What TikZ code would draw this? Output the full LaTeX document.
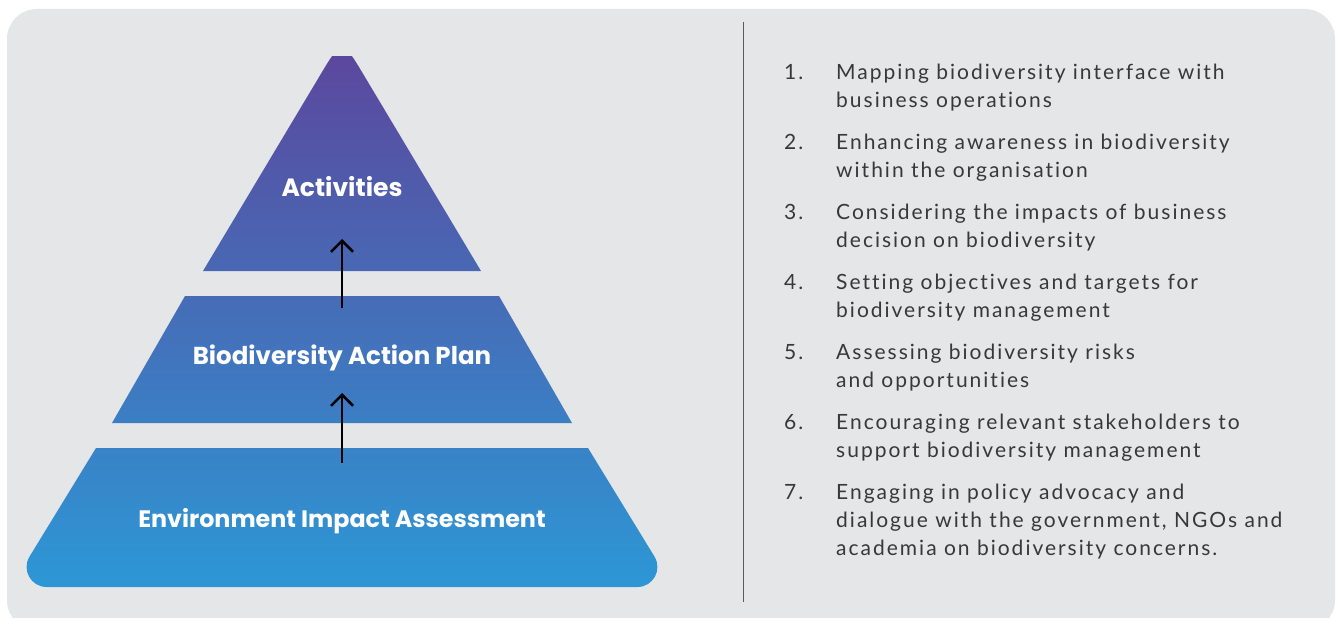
\documentclass[tikz,border=0pt]{standalone}
\usepackage{fontspec}
\setmainfont{Lato}[Ligatures=NoCommon]
\newfontfamily\listfont{Lato}[Ligatures=NoCommon, LetterSpace=9.5]
\newfontfamily\titlefont{Poppins}
\usetikzlibrary{arrows.meta}
\definecolor{bgc}{HTML}{E5E6E8}
\definecolor{ptop}{HTML}{5B489E}
\definecolor{pbot}{HTML}{2D97D5}
\definecolor{txtc}{HTML}{383838}
\definecolor{divc}{HTML}{5A5A5A}
\begin{document}
\begin{tikzpicture}[x=1pt,y=1pt,
  titlelabel/.style={text=white, font=\titlefont\fontsize{25}{28}\selectfont\bfseries, anchor=base, inner sep=0pt},
  numlabel/.style={text=txtc, font=\listfont\fontsize{21}{28}\selectfont, anchor=base west, inner sep=0pt},
  itemlabel/.style={text=txtc, font=\listfont\fontsize{21}{28}\selectfont, anchor=base west, align=left, inner sep=0pt},
  upconn/.style={line width=2.5pt, -{Straight Barb[length=11pt,width=22pt]}}]
\useasboundingbox (0,0) rectangle (1336,-618);
\fill[white] (0,0) rectangle (1336,-618);
\begin{scope}
  \clip (0,0) rectangle (1336,-618);
  \fill[bgc, rounded corners=30pt] (7,-9) rectangle (1335,-630);
\end{scope}
% pyramid with one vertical gradient
\begin{scope}
  \clip (203,-271) -- (320,-75.4) .. controls (342,-38.6) .. (364,-75.4) -- (481,-271) -- cycle
        (185,-296) -- (499,-296) -- (572,-423) -- (112,-423) -- cycle
        (96,-448) -- (588,-448) -- (654.5,-556.6) .. controls (662.6,-569.9) and (653,-587) .. (637.4,-587)
        -- (46.6,-587) .. controls (31,-587) and (21.4,-569.9) .. (29.5,-556.6) -- cycle;
  \shade[top color=ptop, bottom color=pbot] (0,-57) rectangle (700,-587);
\end{scope}
% titles
\node[titlelabel] (act) at (342,-196) {Activities};
\node[titlelabel, font=\titlefont\fontsize{24.5}{28}\selectfont\bfseries] (bap) at (342,-364) {Biodiversity Action Plan};
\node[titlelabel, font=\titlefont\fontsize{23.8}{28}\selectfont\bfseries] (eia) at (342,-527) {Environment Impact Assessment};
% arrows
\coordinate (a1s) at (342,-308);
\coordinate (a1e) at (342,-239);
\coordinate (a2s) at (342,-463);
\coordinate (a2e) at (342,-393);
\draw[upconn] (a1s) -- (a1e);
\draw[upconn] (a2s) -- (a2e);
% divider
\coordinate (dtop) at (743.5,-22);
\coordinate (dbot) at (743.5,-602);
\draw[divc, line width=1.5pt] (dtop) -- (dbot);
% list (base anchor = baseline of last line)
\node[numlabel] (n1) at (784,-79) {1.};
\node[itemlabel] (t1) at (836,-107) {Mapping biodiversity interface with\\business operations};
\node[numlabel] (n2) at (784,-149) {2.};
\node[itemlabel] (t2) at (836,-177) {Enhancing awareness in biodiversity\\within the organisation};
\node[numlabel] (n3) at (784,-219) {3.};
\node[itemlabel] (t3) at (836,-247) {Considering the impacts of business\\decision on biodiversity};
\node[numlabel] (n4) at (784,-289) {4.};
\node[itemlabel] (t4) at (836,-317) {Setting objectives and targets for\\biodiversity management};
\node[numlabel] (n5) at (784,-359) {5.};
\node[itemlabel] (t5) at (836,-387) {Assessing biodiversity risks\\and opportunities};
\node[numlabel] (n6) at (784,-429) {6.};
\node[itemlabel] (t6) at (836,-457) {Encouraging relevant stakeholders to\\support biodiversity management};
\node[numlabel] (n7) at (784,-499) {7.};
\node[itemlabel] (t7) at (836,-555) {Engaging in policy advocacy and\\dialogue with the government, NGOs and\\academia on biodiversity concerns.};
\end{tikzpicture}
\end{document}
